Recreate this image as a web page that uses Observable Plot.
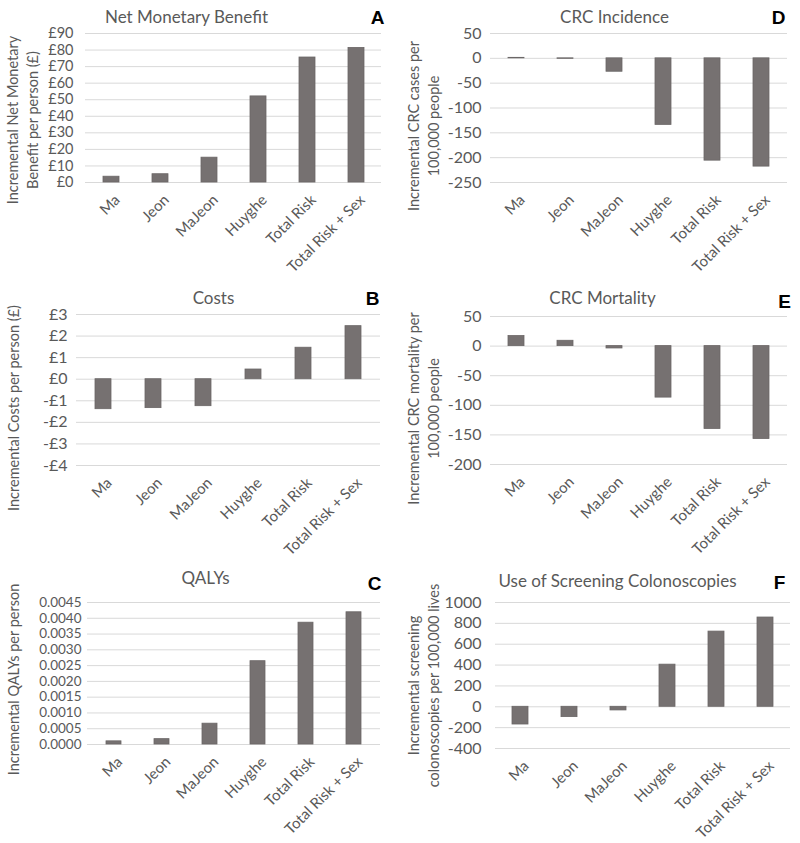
<!DOCTYPE html>
<html>
<head>
<meta charset="utf-8">
<script src="https://cdn.jsdelivr.net/npm/d3@7"></script>
<script src="https://cdn.jsdelivr.net/npm/@observablehq/plot@0.6"></script>
<style>
  body { margin: 0; background: #fff; }
  #root { position: relative; width: 800px; height: 843px; background: #fff; font-family: Lato, "Open Sans", sans-serif; }
  .panel { position: absolute; }
</style>
</head>
<body>
<div id="root"></div>
<script>
// ---- Data ----
const categories = ["Ma", "Jeon", "MaJeon", "Huyghe", "Total Risk", "Total Risk + Sex"];

const netMonetaryBenefit = [3.5, 5, 15, 52, 75.5, 81.3];
const costs = [-1.39, -1.34, -1.25, 0.45, 1.46, 2.46];
const qalys = [0.0001, 0.00017, 0.00066, 0.00264, 0.00386, 0.00419];
const crcIncidence = [1, -1, -27, -134, -206, -218];
const crcMortality = [17, 9, -4, -87, -140, -157];
const colonoscopies = [-170, -99, -35, 404, 721, 856];

const ticksA = [0, 10, 20, 30, 40, 50, 60, 70, 80, 90];
const tickLabelsA = ["£0", "£10", "£20", "£30", "£40", "£50", "£60", "£70", "£80", "£90"];
const ticksB = [-4, -3, -2, -1, 0, 1, 2, 3];
const tickLabelsB = ["-£4", "-£3", "-£2", "-£1", "£0", "£1", "£2", "£3"];
const ticksC = [0, 0.0005, 0.001, 0.0015, 0.002, 0.0025, 0.003, 0.0035, 0.004, 0.0045];
const tickLabelsC = ["0.0000", "0.0005", "0.0010", "0.0015", "0.0020", "0.0025", "0.0030", "0.0035", "0.0040", "0.0045"];
const ticksD = [-250, -200, -150, -100, -50, 0, 50];
const tickLabelsD = ["-250", "-200", "-150", "-100", "-50", "0", "50"];
const ticksE = [-200, -150, -100, -50, 0, 50];
const tickLabelsE = ["-200", "-150", "-100", "-50", "0", "50"];
const ticksF = [-400, -200, 0, 200, 400, 600, 800, 1000];
const tickLabelsF = ["-400", "-200", "0", "200", "400", "600", "800", "1000"];

// ---- Panels ----
const panels = [
  { left: 0, top: 0, height: 280, values: netMonetaryBenefit, title: "Net Monetary Benefit", letter: "A",
    ylabel: "Incremental Net Monetary\nBenefit per person (£)", ticks: ticksA, labels: tickLabelsA,
    m: [33, 19, 98, 85], tp: 12, tf: 14.5, lab: [-64, 12], tt: [186, 17], lt: [377, 17] },
  { left: 400, top: 0, height: 280, values: crcIncidence, title: "CRC Incidence", letter: "D",
    ylabel: "Incremental CRC cases per\n100,000 people", ticks: ticksD, labels: tickLabelsD,
    m: [33, 13, 98, 90], tp: 9, tf: 16, lab: [-68, 18], tt: [214, 17], lt: [378, 17] },
  { left: 0, top: 280, height: 280, values: costs, title: "Costs", letter: "B",
    ylabel: "Incremental Costs per person (£)", ticks: ticksB, labels: tickLabelsB,
    m: [34, 20, 95, 76], tp: 9, tf: 16, lab: [-64, 18], tt: [213, 18], lt: [372, 18] },
  { left: 400, top: 280, height: 280, values: crcMortality, title: "CRC Mortality", letter: "E",
    ylabel: "Incremental CRC mortality per\n100,000 people", ticks: ticksE, labels: tickLabelsE,
    m: [36, 13, 96, 90], tp: 9, tf: 16, lab: [-68, 18], tt: [202, 18], lt: [384, 21] },
  { left: 0, top: 560, height: 283, values: qalys, title: "QALYs", letter: "C",
    ylabel: "Incremental QALYs per person", ticks: ticksC, labels: tickLabelsC,
    m: [42, 20, 99, 87], tp: 6, tf: 13.5, lab: [-75, 6], tt: [205, 18], lt: [374, 23] },
  { left: 400, top: 560, height: 283, values: colonoscopies, title: "Use of Screening Colonoscopies", letter: "F",
    ylabel: "Incremental screening\ncolonoscopies per 100,000 lives", ticks: ticksF, labels: tickLabelsF,
    m: [42, 10, 95, 95], tp: 14, tf: 16, lab: [-73, 10], tt: [217, 21], lt: [379, 22] }
];

const root = document.getElementById("root");
const grey = "#595959";

for (const p of panels) {
  const data = categories.map((c, i) => ({ cat: c, v: p.values[i] }));
  const [mt, mr, mb, ml] = p.m;
  const fmt = (d) => { const i = p.ticks.findIndex(t => Math.abs(t - d) < 1e-9); return i >= 0 ? p.labels[i] : ""; };
  const chart = Plot.plot({
    width: 400,
    height: p.height,
    marginTop: mt, marginRight: mr, marginBottom: mb, marginLeft: ml,
    style: { fontFamily: "Lato, 'Open Sans', sans-serif", background: "white", overflow: "visible" },
    x: { type: "band", domain: categories, paddingInner: 0.68, paddingOuter: 0.34 },
    y: { domain: [p.ticks[0], p.ticks[p.ticks.length - 1]] },
    marks: [
      Plot.ruleY(p.ticks, { stroke: "#d9d9d9", strokeWidth: 1 }),
      Plot.barY(data, { x: "cat", y1: 0, y2: "v", fill: "#767171", stroke: "#6b6767", strokeWidth: 0.8 }),
      Plot.axisY({ ticks: p.ticks, tickFormat: fmt, tickSize: 0, tickPadding: p.tp, fontSize: p.tf, color: grey, label: null }),
      Plot.axisX({ tickRotate: -45, tickSize: 0, tickPadding: 15, dx: 6, fontSize: 15, color: grey, label: null }),
      Plot.text([p.ylabel], { frameAnchor: "left", dx: p.lab[0], dy: p.lab[1], rotate: -90, text: d => d,
        textAnchor: "middle", lineAnchor: "middle", fontSize: 14.5, fill: grey, lineHeight: 1.35 }),
      Plot.text([p.title], { frameAnchor: "top-left", dx: p.tt[0] - ml, dy: p.tt[1] - mt, text: d => d,
        textAnchor: "middle", lineAnchor: "middle", fontSize: 17, fill: grey }),
      Plot.text([p.letter], { frameAnchor: "top-left", dx: p.lt[0] - ml, dy: p.lt[1] - mt, text: d => d,
        textAnchor: "middle", lineAnchor: "middle", fontSize: 19, fontWeight: "bold", fill: "#000",
        fontFamily: "'Liberation Sans', Arial, sans-serif" })
    ]
  });
  const div = document.createElement("div");
  div.className = "panel";
  div.style.left = p.left + "px";
  div.style.top = p.top + "px";
  div.appendChild(chart);
  root.appendChild(div);
}
</script>
</body>
</html>
